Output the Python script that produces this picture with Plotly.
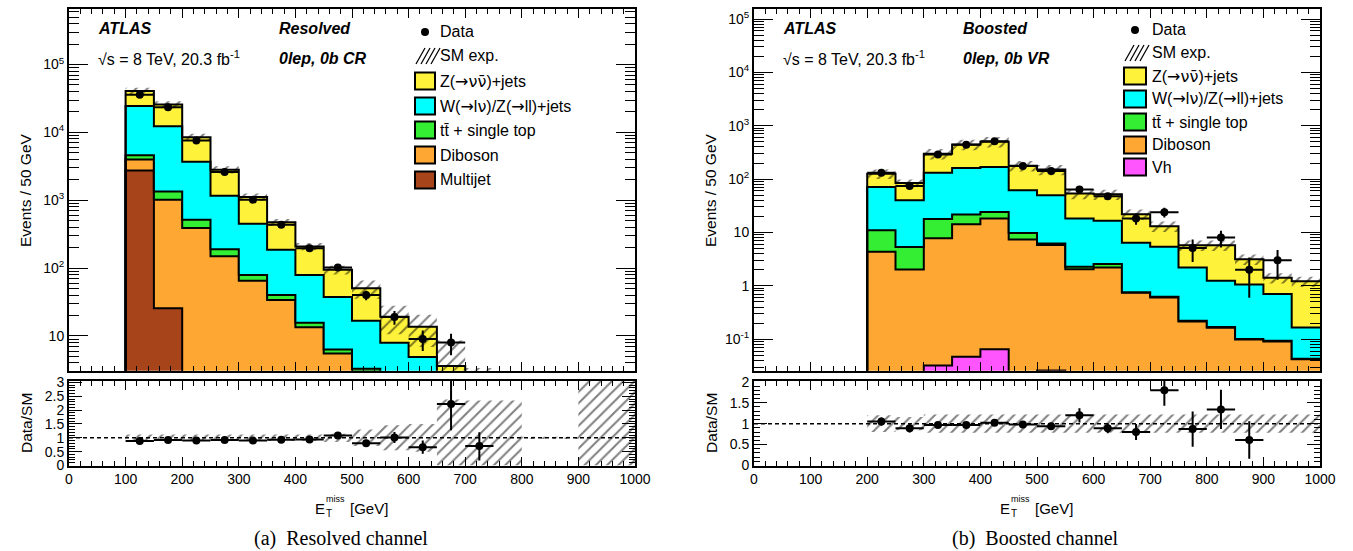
import numpy as np
import plotly.graph_objects as go

W, H = 1353, 551
SANS = "Liberation Sans"
SERIF = "Liberation Serif"

# ---------------- data ----------------
edges = list(range(0, 1001, 50))          # 20 bins of 50 GeV
centers = [e + 25 for e in edges[:-1]]

# Resolved channel (0lep, 0b CR) yields per bin 0-50 ... 950-1000
res_multijet = [0, 0, 2750, 25.6, 0, 0, 0, 0, 0, 0, 0, 0, 0, 0, 0, 0, 0, 0, 0, 0]
res_diboson = [0, 0, 1250, 994, 390, 149, 65, 34, 13.4, 5.5, 3.0, 1.5, 0.8, 0.4, 0.2, 0.1, 0.05, 0.03, 0, 0]
res_top = [0, 0, 600, 330, 125, 41, 14, 6, 2.3, 0.8, 0.3, 0.2, 0.1, 0.05, 0.05, 0.02, 0.01, 0.01, 0, 0]
res_wz = [0, 0, 19900, 10950, 3185, 980, 373, 147, 63.3, 31.2, 13.5, 6.26, 4.0, 1.55, 0.55, 0.28, 0.14, 0.06, 0, 0]
res_znn = [0, 0, 16300, 13400, 4800, 1650, 668, 286, 130, 57, 33.8, 11.3, 8.8, 1.6, 0.63, 0.4, 0.3, 0.2, 0, 0]
res_unc = [0, 0, 0.12, 0.12, 0.12, 0.12, 0.12, 0.12, 0.12, 0.15, 0.3, 0.45, 0.5, 1.38, 1.35, 1.35, 0.04, 0.04, 2.5, 2.5]

res_data_x = [125, 175, 225, 275, 325, 375, 425, 475, 525, 575, 625, 675, 725]
res_data = [36000, 23500, 7600, 2600, 1020, 436, 197, 102, 40, 19, 9, 8, 1]
res_data_err = [190, 153, 87, 51, 32, 21, 14, 10, 6.3, 4.4, 3.0, 2.8, 1.0]
res_ratio = [0.88, 0.92, 0.9, 0.92, 0.9, 0.93, 0.94, 1.08, 0.8, 1.01, 0.66, 2.22, 0.7]
res_ratio_up = [0.01, 0.01, 0.02, 0.02, 0.03, 0.05, 0.07, 0.1, 0.13, 0.2, 0.24, 1.0, 0.5]
res_ratio_dn = [0.01, 0.01, 0.02, 0.02, 0.03, 0.05, 0.07, 0.1, 0.13, 0.2, 0.24, 0.95, 0.52]

# Boosted channel (0lep, 0b VR)
bst_vh = [0, 0, 0, 0, 0.01, 0.015, 0.032, 0.047, 0.065, 0.02, 0.026, 0.015, 0.012, 0.008, 0.006, 0.004, 0.003, 0.002, 0.002, 0.001]
bst_diboson = [0, 0, 0, 0, 4.32, 2.0, 7.77, 14.25, 18.1, 7.35, 5.77, 2.03, 2.19, 0.73, 0.60, 0.21, 0.16, 0.097, 0.088, 0.041]
bst_top = [0, 0, 0, 0, 6.7, 3.35, 10.1, 7.3, 6.1, 2.4, 0.4, 0.22, 0.35, 0.02, 0.015, 0.008, 0.006, 0.002, 0.003, 0.001]
bst_wz = [0, 0, 0, 0, 60.3, 34.7, 114, 139, 145, 52, 43.5, 16.0, 13.95, 5.64, 4.75, 1.98, 1.07, 0.96, 0.61, 0.123]
bst_znn = [0, 0, 0, 0, 54.7, 44.6, 168, 286, 334, 117, 101, 35.3, 35.5, 15.6, 7.73, 3.58, 4.54, 2.1, 0.71, 1.05]
bst_unc = [0, 0, 0, 0, 0.2, 0.16, 0.22, 0.22, 0.22, 0.22, 0.22, 0.22, 0.22, 0.22, 0.22, 0.22, 0.22, 0.22, 0.22, 0.22]

bst_data_x = [225, 275, 325, 375, 425, 475, 525, 575, 625, 675, 725, 775, 825, 875, 925]
bst_data = [132, 74, 290, 442, 510, 176, 142, 63.5, 47.7, 18.3, 24, 5.1, 8.0, 2.0, 3.0]
bst_data_err = [11.5, 8.6, 17, 21, 22.6, 13.3, 11.9, 8.0, 6.9, 4.3, 4.9, 2.3, 2.8, 1.4, 1.7]
bst_ratio_x = [225, 275, 325, 375, 425, 475, 525, 575, 625, 675, 725, 775, 825, 875]
bst_ratio = [1.05, 0.89, 0.97, 0.97, 1.02, 0.98, 0.94, 1.2, 0.89, 0.8, 1.8, 0.87, 1.34, 0.61]
bst_ratio_err = [0.1, 0.1, 0.06, 0.05, 0.05, 0.08, 0.08, 0.17, 0.12, 0.19, 0.37, 0.42, 0.47, 0.45]

COL = {
    "znn": "#FFF23A",
    "wz": "#00FFFF",
    "top": "#33EE33",
    "dib": "#FFA733",
    "mj": "#A8441A",
    "vh": "#FF55FF",
}
FLOOR = 1e-4

fig = go.Figure()


def add_stack(comps, xa, ya):
    fig.add_trace(go.Scatter(x=edges, y=[FLOOR] * len(edges), mode="lines",
                             line=dict(width=0, shape="hv"), xaxis=xa, yaxis=ya,
                             hoverinfo="skip", showlegend=False))
    cum = np.zeros(len(centers))
    for vals, col in comps:
        cum = cum + np.array(vals, dtype=float)
        yv = np.maximum(cum, FLOOR)
        y = list(yv) + [yv[-1]]
        fig.add_trace(go.Scatter(x=edges, y=y, mode="lines", fill="tonexty",
                                 fillcolor=col, line=dict(color="black", width=2, shape="hv"),
                                 xaxis=xa, yaxis=ya, hoverinfo="skip", showlegend=False))
    return cum


def add_hatch(lo, hi, mask, xa, ya):
    xs, ys = [], []
    for i, c in enumerate(centers):
        if not mask[i]:
            continue
        x0, x1 = c - 25, c + 25
        xs += [x0, x1, x1, x0, x0, None]
        ys += [lo[i], lo[i], hi[i], hi[i], lo[i], None]
    fig.add_trace(go.Scatter(x=xs, y=ys, mode="lines", fill="toself",
                             fillcolor="rgba(0,0,0,0)", line=dict(width=0),
                             fillpattern=dict(shape="/", fgcolor="black", bgcolor="rgba(0,0,0,0)",
                                              size=8, solidity=0.25),
                             xaxis=xa, yaxis=ya, hoverinfo="skip", showlegend=False))


def add_data(x, y, eu, ed, xa, ya):
    fig.add_trace(go.Scatter(x=x, y=y, mode="markers",
                             marker=dict(color="black", size=8),
                             error_y=dict(type="data", array=eu, arrayminus=ed, color="black",
                                          thickness=2, width=0),
                             error_x=dict(type="constant", value=25, color="black", thickness=2, width=0),
                             xaxis=xa, yaxis=ya, hoverinfo="skip", showlegend=False))


def add_unity(xa, ya):
    fig.add_trace(go.Scatter(x=[0, 1000], y=[1, 1], mode="lines",
                             line=dict(color="black", width=1.5, dash="4px,3px"),
                             xaxis=xa, yaxis=ya, hoverinfo="skip", showlegend=False))


# ---- left (resolved) ----
tot_r = add_stack([(res_multijet, COL["mj"]), (res_diboson, COL["dib"]), (res_top, COL["top"]),
                   (res_wz, COL["wz"]), (res_znn, COL["znn"])], "x", "y")
mask_r = [u > 0 for u in res_unc]
add_hatch([max(t * (1 - u), FLOOR) for t, u in zip(tot_r, res_unc)],
          [max(t * (1 + u), FLOOR) for t, u in zip(tot_r, res_unc)], mask_r, "x", "y")
add_data(res_data_x, res_data, res_data_err, res_data_err, "x", "y")

add_hatch([max(1 - u, 0) for u in res_unc], [1 + u for u in res_unc], mask_r, "x2", "y2")
add_unity("x2", "y2")
add_data(res_data_x, res_ratio, res_ratio_up, res_ratio_dn, "x2", "y2")

# ---- right (boosted) ----
tot_b = add_stack([(bst_vh, COL["vh"]), (bst_diboson, COL["dib"]), (bst_top, COL["top"]),
                   (bst_wz, COL["wz"]), (bst_znn, COL["znn"])], "x3", "y3")
mask_b = [u > 0 for u in bst_unc]
add_hatch([max(t * (1 - u), FLOOR) for t, u in zip(tot_b, bst_unc)],
          [max(t * (1 + u), FLOOR) for t, u in zip(tot_b, bst_unc)], mask_b, "x3", "y3")
add_data(bst_data_x, bst_data, bst_data_err, bst_data_err, "x3", "y3")

add_hatch([max(1 - u, 0) for u in bst_unc], [1 + u for u in bst_unc], mask_b, "x4", "y4")
add_unity("x4", "y4")
add_data(bst_ratio_x, bst_ratio, bst_ratio_err, bst_ratio_err, "x4", "y4")


# ---------------- axes ----------------
def px(x):
    return x / W


def py(y):
    return 1 - y / H


TICKFONT = dict(family=SANS, size=14, color="black")


def xax(dom, anchor, labels):
    return dict(domain=dom, anchor=anchor, range=[0, 1000], tickmode="array",
                tickvals=list(range(0, 1001, 100)), showticklabels=labels,
                ticks="inside", ticklen=9, tickwidth=1, tickcolor="black",
                minor=dict(ticks="inside", ticklen=5, tickwidth=1, tickcolor="black", dtick=20, showgrid=False),
                showline=True, linewidth=2, linecolor="black", mirror="ticks", automargin=False,
                showgrid=False, zeroline=False, tickfont=TICKFONT)


def logax(dom, anchor, lo, hi, decades):
    tv = [10.0 ** d for d in decades]
    tt = []
    for d in decades:
        if d == 0:
            tt.append("1")
        elif d == 1:
            tt.append("10")
        else:
            tt.append("10<sup>%d</sup>" % d)
    minors = [m * 10.0 ** d for d in range(decades[0] - 1, decades[-1] + 1) for m in range(2, 10)]
    return dict(domain=dom, anchor=anchor, type="log", range=[lo, hi], tickmode="array",
                tickvals=tv, ticktext=tt, ticks="inside", ticklen=19, tickwidth=1, tickcolor="black",
                minor=dict(ticks="inside", ticklen=10, tickwidth=1, tickcolor="black",
                           tickmode="array", tickvals=minors, showgrid=False),
                showline=True, linewidth=2, linecolor="black", mirror="ticks", automargin=False,
                showgrid=False, zeroline=False, tickfont=TICKFONT)


def ratax(dom, anchor, hi, tvals, ttext):
    return dict(domain=dom, anchor=anchor, range=[0, hi], tickmode="array",
                tickvals=tvals, ticktext=ttext, ticks="inside", ticklen=13, tickwidth=1, tickcolor="black",
                minor=dict(ticks="inside", ticklen=6, tickwidth=1, tickcolor="black", dtick=0.1, showgrid=False),
                showline=True, linewidth=2, linecolor="black", mirror="ticks", automargin=False,
                showgrid=False, zeroline=False, tickfont=TICKFONT)


LX = [px(69), px(635)]
RX = [px(754), px(1320)]
MAIN_Y = [py(370.7), py(8.5)]
RAT_Y = [py(465.5), py(381)]

layout = dict(
    width=W, height=H, margin=dict(l=0, r=0, t=0, b=0, autoexpand=False),
    paper_bgcolor="white", plot_bgcolor="white", showlegend=False,
    font=dict(family=SANS, size=14, color="black"),
    xaxis=xax(LX, "y", False),
    yaxis=logax(MAIN_Y, "x", 0.488, 5.826, [1, 2, 3, 4, 5]),
    xaxis2=xax(LX, "y2", True),
    yaxis2=ratax(RAT_Y, "x2", 3.05, [0, 0.5, 1, 1.5, 2, 2.5, 3], ["0", "0.5", "1", "1.5", "2", "2.5", "3"]),
    xaxis3=xax(RX, "y3", False),
    yaxis3=logax(MAIN_Y, "x3", -1.591, 5.197, [-1, 0, 1, 2, 3, 4, 5]),
    xaxis4=xax(RX, "y4", True),
    yaxis4=ratax(RAT_Y, "x4", 2.02, [0, 0.5, 1, 1.5, 2], ["0", "0.5", "1", "1.5", "2"]),
)
fig.update_layout(**layout)

# ---------------- text & legends ----------------
ann = []
shapes = []


def A(text, x, y, size=16, xanchor="left", family=SANS, angle=0):
    ann.append(dict(text=text, x=px(x), y=py(y), xref="paper", yref="paper", showarrow=False,
                    xanchor=xanchor, yanchor="middle", textangle=angle, borderpad=0,
                    font=dict(family=family, size=size, color="black")))


for off, tag1, tag2 in [(0, "Resolved", "0lep, 0b CR"), (685, "Boosted", "0lep, 0b VR")]:
    A("<b><i>ATLAS</i></b>", 97 + off, 28)
    A("\u221as = 8 TeV, 20.3 fb<sup>-1</sup>", 97 + off, 58)
    A("<b><i>%s</i></b>" % tag1, 278 + off - (1 if off else 0), 28)
    A("<b><i>%s</i></b>" % tag2, 278 + off - (1 if off else 0), 58)
    A("Events / 50 GeV", 25 + off, 190, size=15.5, xanchor="center", angle=-90)
    A("Data/SM", 26 + off, 423, size=15.5, xanchor="center", angle=-90)
    A("E", 326 + off, 508, size=15, xanchor="right")
    A("miss", 325 + off, 499, size=9)
    A("T", 325 + off, 513, size=10)
    A("[GeV]", 349 + off, 508, size=15)

A("(a)\u00a0\u00a0Resolved channel", 341, 538, size=20, xanchor="center", family=SERIF)
A("(b)\u00a0\u00a0Boosted channel", 1035, 538, size=20, xanchor="center", family=SERIF)


def legend(bx0, bx1, tx, rows, labels, cols):
    # Data
    cx, cy = (bx0 + bx1) / 2, rows[0]
    shapes.append(dict(type="circle", xref="paper", yref="paper",
                       x0=px(cx - 4), x1=px(cx + 4), y0=py(cy + 4), y1=py(cy - 4),
                       fillcolor="black", line=dict(color="black", width=0)))
    A("Data", tx, rows[0])
    # SM exp hatch symbol
    y0, y1 = rows[1] + 8, rows[1] - 8
    for k in range(4):
        xs = bx0 + 1 + 5 * k
        shapes.append(dict(type="line", xref="paper", yref="paper",
                           x0=px(xs), y0=py(y0), x1=px(xs + 9), y1=py(y1),
                           line=dict(color="black", width=1.3)))
    A("SM exp.", tx, rows[1])
    for r, lab, col in zip(rows[2:], labels, cols):
        shapes.append(dict(type="rect", xref="paper", yref="paper",
                           x0=px(bx0), x1=px(bx1), y0=py(r + 8.5), y1=py(r - 8.5),
                           fillcolor=col, line=dict(color="black", width=2)))
        A(lab, tx, r)


DJ = "<span style='font-family:DejaVu Sans'>%s</span>"
labs_common = ["Z(" + DJ % "\u2192\u03bd\u03bd\u0304" + ")+jets",
               "W(" + DJ % "\u2192" + "l" + DJ % "\u03bd" + ")/Z(" + DJ % "\u2192" + "ll)+jets",
               "tt\u0304 + single top", "Diboson"]
legend(415, 435, 439, [32, 56, 81, 106, 130, 155, 180],
       labs_common + ["Multijet"], [COL["znn"], COL["wz"], COL["top"], COL["dib"], COL["mj"]])
legend(1124, 1146, 1151, [30, 53, 76, 99, 122, 145, 167],
       labs_common + ["Vh"], [COL["znn"], COL["wz"], COL["top"], COL["dib"], COL["vh"]])

fig.update_layout(annotations=ann, shapes=shapes)
fig.write_html("out.html", config={"displayModeBar": False, "staticPlot": True},
               post_script="document.body.style.margin='0px';document.body.style.padding='0px';"
                           "document.body.style.overflow='hidden';")
